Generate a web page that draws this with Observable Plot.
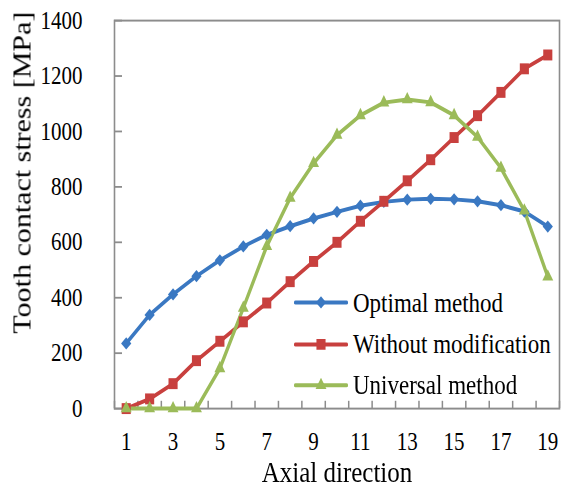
<!DOCTYPE html>
<html><head><meta charset="utf-8">
<script src="https://cdn.jsdelivr.net/npm/d3@7"></script>
<script src="https://cdn.jsdelivr.net/npm/@observablehq/plot@0.6"></script>
<style>
html{overflow:hidden;background:#fff}
body{margin:0;padding:0;background:#fff;height:489px}
#wrap{position:relative;width:561px;transform:scaleY(1.2);transform-origin:0 0;}
#wrap svg{display:block}
.lg-row{position:absolute;left:0;display:flex;align-items:center;height:34px;white-space:nowrap;
  font-family:'Liberation Serif','Times New Roman',serif;font-size:23px;color:#000}
.lg-row span{margin-left:5px;line-height:1}
</style></head>
<body><div id="wrap"></div>
<script>
// ---- data ----
const axialPositions = [1,2,3,4,5,6,7,8,9,10,11,12,13,14,15,16,17,18,19];
const optimalMethod = [235,338,412,478,535,585,627,658,686,710,732,746,754,757,755,748,734,711,657];
const withoutModification = [0,35,90,173,243,313,381,458,531,600,676,748,822,898,978,1057,1141,1226,1276];
const universalMethod = [0,0,0,0,145,363,586,760,885,987,1058,1104,1115,1105,1058,980,868,714,476];
const seriesNames = ["Optimal method","Without modification","Universal method"];
const yTicks = [0,200,400,600,800,1000,1200,1400];
const xTickLabels = [1,3,5,7,9,11,13,15,17,19];
const xTitle = "Axial direction";
const yTitle = "Tooth contact stress [MPa]";

// ---- styles ----
const seriesColors = ["#3a78c2","#c8403e","#9bbb59"];
const seriesSymbols = ["diamond2","square2","triangle2"];
const seriesR = [4.6, 5.8, 5.2];
const axisGray = "#8c8c8c";

const seriesValues = [optimalMethod, withoutModification, universalMethod];
const rows = [];
seriesNames.forEach((name, i) => axialPositions.forEach((x, j) => rows.push({series: name, x, y: seriesValues[i][j]})));
const halfTicks = axialPositions.map(d => d - 0.5).concat([axialPositions[axialPositions.length - 1] + 0.5]);

const S = 1.2;
const H = 489 / S;
const frameTop = 20 / S, frameBottom = 408 / S;

const plot = Plot.plot({
  width: 561, height: H,
  marginLeft: 114, marginRight: 2, marginTop: frameTop, marginBottom: H - frameBottom,
  x: {domain: [0.5, 19.5]},
  y: {domain: [0, 1400]},
  color: {domain: seriesNames, range: seriesColors},
  symbol: {domain: seriesNames, range: seriesSymbols},
  style: {fontFamily: "'Liberation Serif','Times New Roman',serif", fontSize: "21px", color: "#000", background: "#fff", overflow: "visible"},
  marks: [
    Plot.frame({stroke: axisGray, strokeWidth: 1.6}),
    Plot.axisY(yTicks, {tickSize: 8, dx: 8, tickFormat: () => "", stroke: axisGray, strokeWidth: 1.5, label: null}),
    Plot.axisY(yTicks, {tickSize: 0, tickPadding: 32, label: null, fontSize: 21, tickFormat: d => String(d)}),
    Plot.axisX(halfTicks, {tickSize: 6, dy: -6, tickFormat: () => "", stroke: axisGray, strokeWidth: 1.5, label: null}),
    Plot.axisX(xTickLabels, {tickSize: 0, tickPadding: 20, label: null, fontSize: 21, tickFormat: d => String(d)}),
    Plot.line(rows, {x: "x", y: "y", z: "series", stroke: "series", strokeWidth: 3.3}),
    ...seriesNames.map((name, i) => Plot.dot(rows.filter(d => d.series === name),
      {x: "x", y: "y", symbol: "series", fill: "series", r: seriesR[i]})),
    Plot.text([xTitle], {frameAnchor: "bottom", dy: 53.5, fontSize: 25, lineAnchor: "middle", textAnchor: "middle"}),
    Plot.text([yTitle], {frameAnchor: "left", rotate: -90, dx: -92, dy: -35, fontSize: 25, lineAnchor: "middle", textAnchor: "middle"})
  ]
});
const wrap = document.getElementById("wrap");
wrap.appendChild(plot);

// legend (inside plot area, lower right)
const rowCenters = [252.2, 286.7, 320.8];
seriesNames.forEach((name, i) => {
  const row = d3.select(wrap).append("div").attr("class", "lg-row")
    .style("left", "294px").style("top", (rowCenters[i] - 17) + "px");
  const sw = row.append("svg").attr("width", 54).attr("height", 20);
  sw.append("line").attr("x1", 1.5).attr("x2", 52.5).attr("y1", 10).attr("y2", 10)
    .attr("stroke", seriesColors[i]).attr("stroke-width", 3.3).attr("stroke-linecap", "round");
  const symType = {diamond2: d3.symbolDiamond2, square2: d3.symbolSquare2, triangle2: d3.symbolTriangle2}[seriesSymbols[i]];
  sw.append("path").attr("transform", "translate(27,10)")
    .attr("d", d3.symbol(symType, Math.PI * seriesR[i] * seriesR[i])())
    .attr("fill", seriesColors[i]);
  row.append("span").text(name);
});
</script>
</body></html>
